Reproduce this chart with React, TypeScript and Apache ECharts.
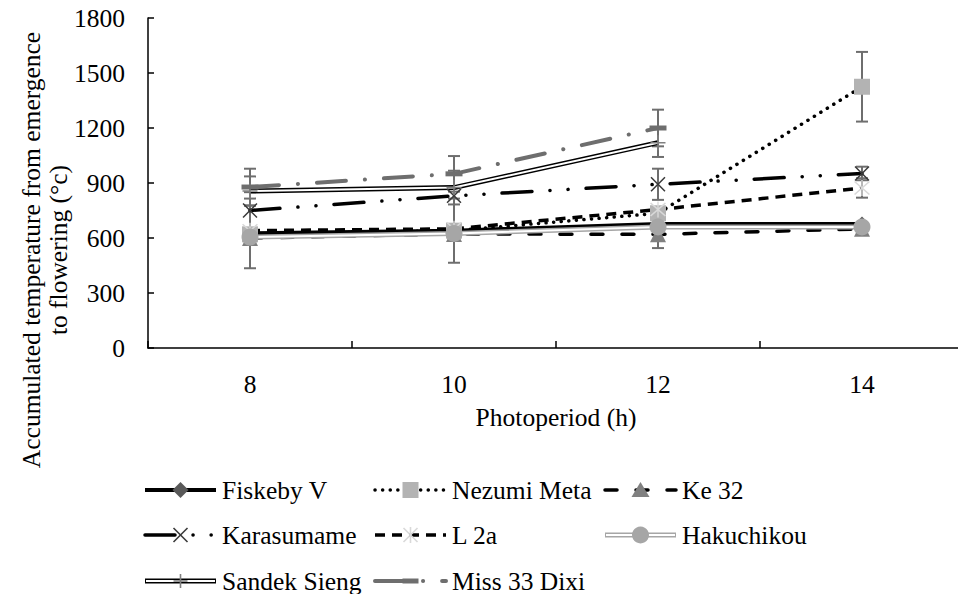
import React, { useEffect, useRef } from 'react';
import * as echarts from 'echarts';

const categories = ['8', '10', '12', '14'];
const yMin = 0;
const yMax = 1800;
const yInterval = 300;
const yTitleLines = ['Accumulated temperature from emergence', 'to flowering (°c)'];
const xTitle = 'Photoperiod (h)';

const fiskeby = [625, 640, 676, 676];
const fiskebyErr = [190, 175, 0, 0];
const nezumi = [620, 640, 735, 1425];
const nezumiErr = [0, 0, 0, 190];
const ke32 = [600, 622, 620, 650];
const ke32Err = [0, 0, 75, 0];
const karasumame = [750, 830, 893, 952];
const karasumameErr = [100, 0, 85, 37];
const l2a = [640, 650, 755, 873];
const l2aErr = [0, 0, 0, 53];
const hakuchikou = [605, 625, 660, 660];
const hakuchikouErr = [0, 0, 0, 0];
const sandek: (number | null)[] = [856, 875, 1120, null];
const sandekErr = [80, 92, 78, 0];
const miss33: (number | null)[] = [878, 950, 1200, null];
const miss33Err = [100, 97, 100, 0];

const SERIF = 'Liberation Serif';
const FS = 25.5;

type Def = {
  name: string;
  data: (number | null)[];
  err: number[];
  color: string;
  width: number;
  dash: any;
  cap: 'butt' | 'round';
  marker: string;
  symbol: string;
  symbolSize: number | number[];
  symbolColor: string;
  double?: { outer: string; inner: string };
};

const P_X = 'path://M1,0 L7,6 L13,0 L14,1 L8,7 L14,13 L13,14 L7,8 L1,14 L0,13 L6,7 L0,1 Z';
const P_AST = 'path://M1,0 L7,6 L13,0 L14,1 L8,7 L14,13 L13,14 L7,8 L1,14 L0,13 L6,7 L0,1 Z M6.4,-1 L7.6,-1 L7.6,15 L6.4,15 Z';
const P_PLUS = 'path://M6.3,0 L7.7,0 L7.7,6.3 L14,6.3 L14,7.7 L7.7,7.7 L7.7,14 L6.3,14 L6.3,7.7 L0,7.7 L0,6.3 L6.3,6.3 Z';

const defs: Def[] = [
  { name: 'Fiskeby V', data: fiskeby, err: fiskebyErr, color: '#000', width: 4, dash: 'solid', cap: 'butt', marker: 'diamond', symbol: 'diamond', symbolSize: 15, symbolColor: '#595959' },
  { name: 'Nezumi Meta', data: nezumi, err: nezumiErr, color: '#000', width: 3.5, dash: [0.1, 7.5], cap: 'round', marker: 'square', symbol: 'rect', symbolSize: 16, symbolColor: '#b3b3b3' },
  { name: 'Ke 32', data: ke32, err: ke32Err, color: '#000', width: 3.5, dash: [12, 19], cap: 'round', marker: 'triangle', symbol: 'triangle', symbolSize: 16, symbolColor: '#808080' },
  { name: 'Karasumame', data: karasumame, err: karasumameErr, color: '#000', width: 3.5, dash: [30, 18, 0.1, 18, 0.1, 18], cap: 'round', marker: 'x', symbol: P_X, symbolSize: 15, symbolColor: '#3a3a3a' },
  { name: 'L 2a', data: l2a, err: l2aErr, color: '#000', width: 3.5, dash: [10, 7], cap: 'butt', marker: 'asterisk', symbol: P_AST, symbolSize: 16, symbolColor: '#d9d9d9' },
  { name: 'Hakuchikou', data: hakuchikou, err: hakuchikouErr, color: '#a6a6a6', width: 5, dash: 'solid', cap: 'butt', marker: 'circle', symbol: 'circle', symbolSize: 17, symbolColor: '#a6a6a6', double: { outer: '#a6a6a6', inner: '#fff' } },
  { name: 'Sandek Sieng', data: sandek, err: sandekErr, color: '#000', width: 5, dash: 'solid', cap: 'butt', marker: 'plus', symbol: P_PLUS, symbolSize: 15, symbolColor: '#808080', double: { outer: '#000', inner: '#fff' } },
  { name: 'Miss 33 Dixi', data: miss33, err: miss33Err, color: '#6e6e6e', width: 4, dash: [29, 19, 0.1, 19], cap: 'round', marker: 'dash', symbol: 'rect', symbolSize: [17, 5], symbolColor: '#6e6e6e' },
];

function markerEls(kind: string, cx: number, cy: number, color: string): any[] {
  const s = 8;
  const ln = (x1: number, y1: number, x2: number, y2: number, w = 1.6) => ({ type: 'line', shape: { x1, y1, x2, y2 }, style: { stroke: color, lineWidth: w } });
  switch (kind) {
    case 'diamond':
      return [{ type: 'polygon', shape: { points: [[cx, cy - s], [cx + s, cy], [cx, cy + s], [cx - s, cy]] }, style: { fill: color } }];
    case 'square':
      return [{ type: 'rect', shape: { x: cx - 8, y: cy - 8, width: 16, height: 16 }, style: { fill: color } }];
    case 'triangle':
      return [{ type: 'polygon', shape: { points: [[cx, cy - 8], [cx + 9, cy + 7], [cx - 9, cy + 7]] }, style: { fill: color } }];
    case 'circle':
      return [{ type: 'circle', shape: { cx, cy, r: 8.5 }, style: { fill: color } }];
    case 'x':
      return [ln(cx - 7, cy - 7, cx + 7, cy + 7), ln(cx - 7, cy + 7, cx + 7, cy - 7)];
    case 'asterisk':
      return [ln(cx - 7, cy - 7, cx + 7, cy + 7), ln(cx - 7, cy + 7, cx + 7, cy - 7), ln(cx, cy - 8, cx, cy + 8)];
    case 'plus':
      return [ln(cx - 7, cy, cx + 7, cy), ln(cx, cy - 7, cx, cy + 7)];
    case 'dash':
      return [{ type: 'rect', shape: { x: cx - 8, y: cy - 2.5, width: 16, height: 5 }, style: { fill: color } }];
  }
  return [];
}

const legendCols = [145, 375, 605];
const legendRows = [490, 535, 581];
const legendLineLen = 71;

function buildLegend(): any[] {
  const els: any[] = [];
  defs.forEach((d, i) => {
    const x0 = legendCols[i % 3];
    const y = legendRows[Math.floor(i / 3)];
    const x1 = x0 + legendLineLen;
    if (d.double) {
      els.push({ type: 'line', shape: { x1: x0, y1: y, x2: x1, y2: y }, style: { stroke: d.double.outer, lineWidth: 5 } });
      els.push({ type: 'line', shape: { x1: x0 + 1, y1: y, x2: x1 - 1, y2: y }, style: { stroke: d.double.inner, lineWidth: 2 } });
    } else {
      els.push({
        type: 'line',
        shape: { x1: x0, y1: y, x2: x1, y2: y },
        style: { stroke: d.color, lineWidth: d.width, lineDash: d.dash === 'solid' ? null : d.dash, lineCap: d.cap },
      });
    }
    markerEls(d.marker, x0 + legendLineLen / 2, y, d.symbolColor).forEach((e) => els.push(e));
    els.push({
      type: 'text',
      x: x0 + 77,
      y,
      style: { text: d.name, fontFamily: SERIF, fontSize: FS, fill: '#000', verticalAlign: 'middle', align: 'left' },
    });
  });
  return els;
}

function buildYTitle(): any[] {
  const xs = [31, 58];
  return yTitleLines.map((t, i) => ({
    type: 'text',
    x: xs[i],
    y: 250,
    rotation: Math.PI / 2,
    style: { text: t, fontFamily: SERIF, fontSize: FS, fill: '#000', align: 'center', verticalAlign: 'middle' },
  }));
}

function buildSeries(): any[] {
  const series: any[] = [];
  const errData: any[] = [];
  defs.forEach((d) => {
    d.data.forEach((v, i) => {
      if (v != null && d.err[i] > 0) errData.push([i, v, d.err[i]]);
    });
  });
  series.push({
    type: 'custom',
    name: 'errors',
    z: 1,
    data: errData,
    encode: { x: 0, y: 1 },
    renderItem: (params: any, api: any) => {
      const x = api.value(0);
      const v = api.value(1);
      const e = api.value(2);
      const top = api.coord([x, v + e]);
      const bot = api.coord([x, v - e]);
      const hw = 6;
      const st = { stroke: '#6e6e6e', lineWidth: 2 };
      return {
        type: 'group',
        children: [
          { type: 'line', shape: { x1: top[0], y1: top[1], x2: bot[0], y2: bot[1] }, style: st },
          { type: 'line', shape: { x1: top[0] - hw, y1: top[1], x2: top[0] + hw, y2: top[1] }, style: st },
          { type: 'line', shape: { x1: bot[0] - hw, y1: bot[1], x2: bot[0] + hw, y2: bot[1] }, style: st },
        ],
      };
    },
  });
  defs.forEach((d) => {
    if (d.double) {
      series.push({
        type: 'line', name: d.name + ' outer', data: d.data, symbol: 'none', z: 2,
        lineStyle: { color: d.double.outer, width: 5 },
      });
      series.push({
        type: 'line', name: d.name, data: d.data, z: 2,
        symbol: d.symbol, symbolSize: d.symbolSize,
        itemStyle: { color: d.symbolColor, borderWidth: 0 },
        lineStyle: { color: d.double.inner, width: 2 },
      });
    } else {
      series.push({
        type: 'line', name: d.name, data: d.data, z: 2,
        symbol: d.symbol, symbolSize: d.symbolSize,
        itemStyle: { color: d.symbolColor, borderWidth: 0 },
        lineStyle: { color: d.color, width: d.width, type: d.dash, cap: d.cap },
      });
    }
  });
  return series;
}

export default function App() {
  const ref = useRef<HTMLDivElement>(null);
  useEffect(() => {
    if (!ref.current) return;
    const chart = echarts.init(ref.current, undefined, { renderer: 'svg' });
    chart.setOption({
      animation: false,
      backgroundColor: '#fff',
      textStyle: { fontFamily: SERIF },
      grid: { left: 148, right: 2, top: 18, bottom: 246, containLabel: false },
      xAxis: {
        type: 'category',
        data: categories,
        boundaryGap: true,
        name: xTitle,
        nameLocation: 'middle',
        nameGap: 56,
        nameTextStyle: { fontFamily: SERIF, fontSize: FS, color: '#000' },
        axisLine: { show: true, lineStyle: { color: '#000', width: 1.5 } },
        axisTick: { show: true, inside: true, length: 7, lineStyle: { color: '#000', width: 1.5 } },
        axisLabel: { fontFamily: SERIF, fontSize: FS, color: '#000', margin: 23 },
        splitLine: { show: false },
      },
      yAxis: {
        type: 'value',
        min: yMin,
        max: yMax,
        interval: yInterval,
        axisLine: { show: true, lineStyle: { color: '#000', width: 1.5 } },
        axisTick: { show: true, inside: true, length: 6, lineStyle: { color: '#000', width: 1.5 } },
        axisLabel: { fontFamily: SERIF, fontSize: FS, color: '#000', margin: 23, formatter: (v: number) => String(v) },
        splitLine: { show: false },
      },
      series: buildSeries(),
      graphic: [{ type: 'group', children: buildLegend().concat(buildYTitle()) }],
    });
    return () => chart.dispose();
  }, []);
  return (
    <div style={{ position: 'absolute', left: 0, top: 0, width: 958, height: 594, overflow: 'hidden', background: '#fff' }}>
      <div ref={ref} style={{ width: 966, height: 594 }} />
    </div>
  );
}
